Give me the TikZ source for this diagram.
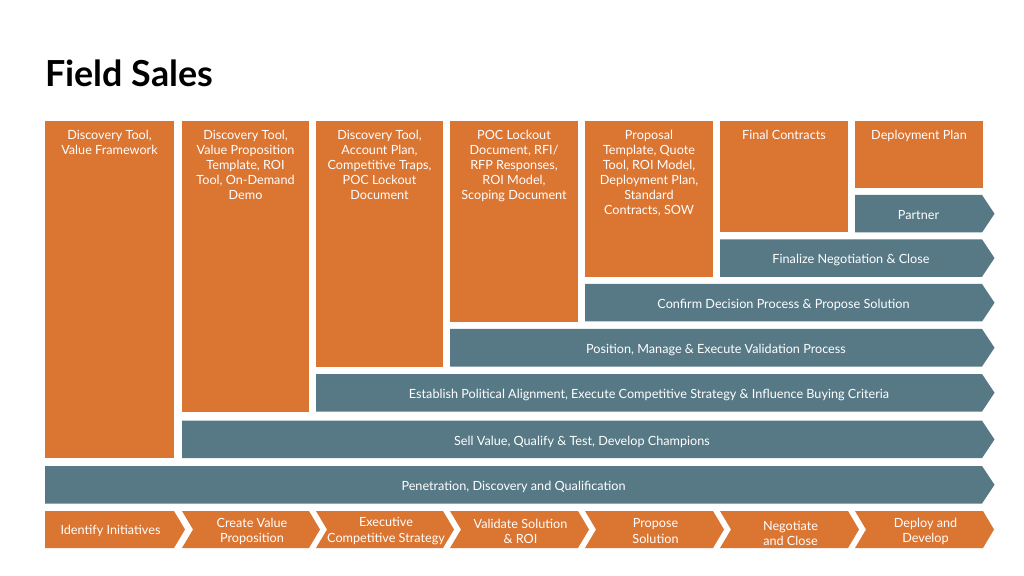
\documentclass[tikz,border=0pt]{standalone}
\usepackage{fontspec}
\setmainfont{Lato}
\definecolor{fsorange}{RGB}{218,117,50}
\definecolor{fsteal}{RGB}{87,121,134}
\tikzset{
    % text in the orange document boxes
    doc/.style={
           anchor=north,
           inner sep=0pt,
           align=center,
           text=white,
           font=\fontsize{9}{10.7}\selectfont},
    % text in the teal bands
    band/.style={
           anchor=base,
           inner sep=0pt,
           text=white,
           font=\fontsize{9}{10.7}\selectfont},
    % text in the bottom chevrons
    stage/.style={
           inner sep=0pt,
           align=center,
           text=white,
           font=\fontsize{9}{10.7}\selectfont}
}
\begin{document}
\begin{tikzpicture}[x=0.025cm, y=-0.025cm]
\useasboundingbox[fill=white] (0,0) rectangle (1024,576);

% title
\node[anchor=base west, inner sep=0pt, font=\fontsize{25.5}{30}\bfseries\selectfont] (title) at (45,86.5) {Field Sales};

% document columns
\foreach \x/\w/\b in {45/129/458, 182/127/412, 316/127/367, 450/128/322, 585/128/277, 720/128/232.5, 855/128/188}
  \fill[fsorange] (\x,121) rectangle (\x+\w,\b);

\node[doc] (doc1) at (109.5,129.5) {Discovery Tool,\\Value Framework};
\node[doc] (doc2) at (245.5,129.5) {Discovery Tool,\\Value Proposition\\Template, ROI\\Tool, On-Demand\\Demo};
\node[doc] (doc3) at (379.5,129.5) {Discovery Tool,\\Account Plan,\\Competitive Traps,\\POC Lockout\\Document};
\node[doc] (doc4) at (514,129.5) {POC Lockout\\Document, RFI/\\RFP Responses,\\ROI Model,\\Scoping Document};
\node[doc] (doc5) at (649,129.5) {Proposal\\Template, Quote\\Tool, ROI Model,\\Deployment Plan,\\Standard\\Contracts, SOW};
\node[doc] (doc6) at (784,129.5) {Final Contracts};
\node[doc] (doc7) at (919,129.5) {Deployment Plan};

% activity bands
\foreach \x/\y/\t [count=\i] in {855/195/{Partner},
    720/239.3/{Finalize Negotiation \& Close},
    585/284/{Confirm Decision Process \& Propose Solution},
    450/329/{Position, Manage \& Execute Validation Process},
    316/374/{Establish Political Alignment, Execute Competitive Strategy \& Influence Buying Criteria},
    182/420.7/{Sell Value, Qualify \& Test, Develop Champions},
    45/466/{Penetration, Discovery and Qualification}}
{
  \fill[fsteal] (\x,\y) -- (982,\y) -- (994.5,\y+18.75) -- (982,\y+37.5) -- (\x,\y+37.5) -- cycle;
  \node[band] (band\i) at ({(\x+982)/2},\y+24.5) {\t};
}

% stage chevrons
\foreach \x/\w/\n/\d/\t [count=\i] in {45/129/0/1/{Identify Initiatives},
    182/127/11/1.5/{Create Value\\Proposition},
    316/127/11/1.5/{Executive\\Competitive Strategy},
    450/128/11/1.5/{Validate Solution\\\& ROI},
    585/128/11/1.5/{Propose\\Solution},
    720/128/11/3.5/{Negotiate\\and Close},
    855/128/11/1.5/{Deploy and\\Develop}}
{
  \fill[fsorange] (\x,511) -- (\x+\w,511) -- (\x+\w+11,529.5) -- (\x+\w,548) -- (\x,548) -- (\x+\n,529.5) -- cycle;
  \node[stage] (stage\i) at ({\x+(\w+\n)/2+1},529.5+\d) {\t};
}
\end{tikzpicture}
\end{document}
